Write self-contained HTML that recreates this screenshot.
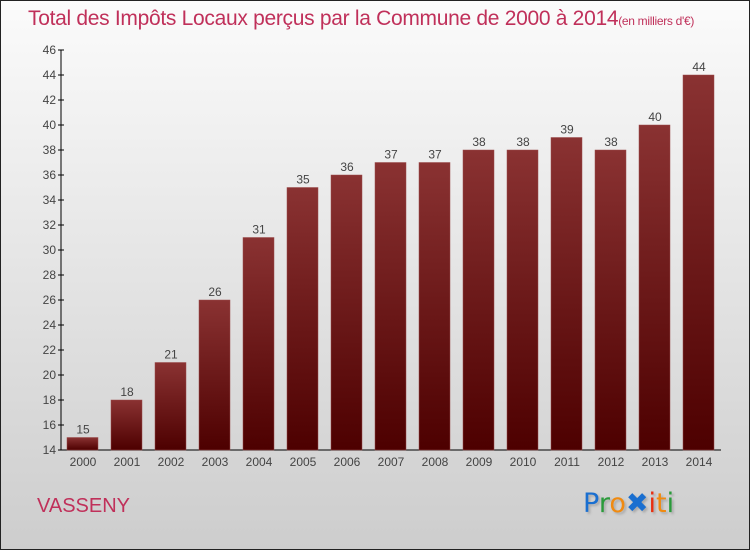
<!DOCTYPE html>
<html><head><meta charset="utf-8"><style>
body{margin:0;}
#wrap{position:relative;width:748px;height:548px;border:1px solid #222;background:linear-gradient(#fbfbfb,#cdcdcd);font-family:"Liberation Sans",sans-serif;overflow:hidden}
#title{position:absolute;left:27px;top:6px;font-size:21px;color:#c0305a;white-space:nowrap;letter-spacing:-0.3px}
#title small{font-size:12px}
#town{position:absolute;left:36px;top:494px;font-size:20px;color:#c0305a}
#logo{position:absolute;left:582px;top:487px;font-size:27px;font-family:"DejaVu Sans",sans-serif;text-shadow:2px 2px 2px #aaa}
</style></head><body>
<div id="wrap">
<div id="title">Total des Impôts Locaux perçus par la Commune de 2000 à 2014<small>(en milliers d'€)</small></div>
<svg id="chart" width="748" height="548" style="position:absolute;left:0;top:0">
<defs><linearGradient id="bg" x1="0" y1="0" x2="0" y2="1"><stop offset="0" stop-color="#8a3232"/><stop offset="1" stop-color="#4d0000"/></linearGradient></defs>
</svg>
<div id="town">VASSENY</div>
<div id="logo"><span style="color:#1a6fd0">P</span><span style="color:#2a9a3a">r</span><span style="color:#f08a10">o</span><span style="color:#1a6fd0">✖</span><span style="color:#e83010">i</span><span style="color:#f08a10">t</span><span style="color:#2a9a3a">i</span></div>
</div>
<script>
const years=["2000","2001","2002","2003","2004","2005","2006","2007","2008","2009","2010","2011","2012","2013","2014"];
const values=[15,18,21,26,31,35,36,37,37,38,38,39,38,40,44];
const yTicks=[14,16,18,20,22,24,26,28,30,32,34,36,38,40,42,44,46];
const svg=document.getElementById('chart');const NS='http://www.w3.org/2000/svg';
const y=v=>449-(v-14)*12.5;const x=i=>81+i*44;
function mk(t,a){const e=document.createElementNS(NS,t);for(const k in a)e.setAttribute(k,a[k]);svg.appendChild(e);return e;}
let ax=mk('line',{x1:60,y1:y(46),x2:60,y2:y(14),stroke:'#000'});


let xa=mk('line',{x1:60,y1:y(14),x2:720,y2:y(14),stroke:'#000'});


yTicks.forEach(t=>{mk('line',{x1:57,x2:63,y1:y(t),y2:y(t),stroke:'#000'});
const tx=mk('text',{x:55,y:y(t)+4,'text-anchor':'end','font-size':12,fill:'#444'});tx.textContent=t;

});
values.forEach((v,i)=>{
const r=mk('rect',{x:x(i)-15,y:y(v),width:31,height:y(14)-y(v),fill:'url(#bg)',stroke:'#9a4a4a','stroke-width':0.5});


const l=mk('text',{x:x(i)+1,y:y(v)-4,'text-anchor':'middle','font-size':12,fill:'#444'});l.textContent=v;


const c=mk('text',{x:x(i)+1,y:465,'text-anchor':'middle','font-size':12,fill:'#444'});c.textContent=years[i];


});
</script>
</body></html>
